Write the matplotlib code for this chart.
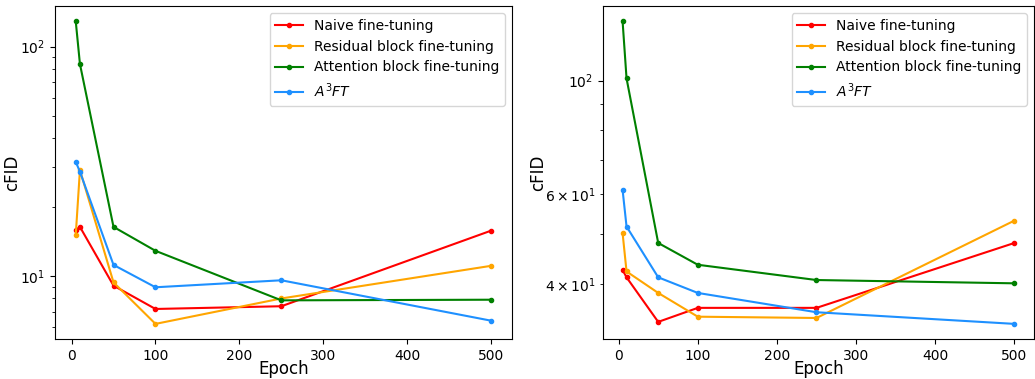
import matplotlib.pyplot as plt

epochs = [5, 10, 50, 100, 250, 500]

labels = ["Naive fine-tuning", "Residual block fine-tuning",
          "Attention block fine-tuning", r"$A^3FT$"]
colors = ["red", "orange", "green", "dodgerblue"]

# left panel
naive_l = [15.9, 16.4, 9.1, 7.2, 7.4, 15.8]
resid_l = [15.1, 29.0, 9.4, 6.2, 8.0, 11.1]
attn_l = [129, 84, 16.4, 12.9, 7.85, 7.9]
a3ft_l = [31.5, 28.5, 11.2, 8.95, 9.6, 6.4]

# right panel
naive_r = [42.6, 41.2, 33.7, 35.9, 35.9, 48.1]
resid_r = [50.3, 42.3, 38.4, 34.5, 34.3, 53.2]
attn_r = [130.7, 101, 48.1, 43.6, 40.7, 40.1]
a3ft_r = [61.1, 51.8, 41.2, 38.4, 35.2, 33.4]

fig = plt.figure(figsize=(10.35, 3.79), dpi=100)
ax1 = fig.add_axes([0.0531, 0.1055, 0.4416, 0.8785])
ax2 = fig.add_axes([0.5826, 0.1055, 0.4164, 0.8785])

for ax, series, ylx in [(ax1, [naive_l, resid_l, attn_l, a3ft_l], -0.074),
                        (ax2, [naive_r, resid_r, attn_r, a3ft_r], -0.129)]:
    for vals, lab, c in zip(series, labels, colors):
        ax.plot(epochs, vals, marker=".", markersize=6, color=c, label=lab)
    ax.set_yscale("log")
    ax.set_xlabel("Epoch", fontsize=12)
    ax.set_ylabel("cFID", fontsize=12)
    ax.xaxis.set_label_coords(0.5, -0.063)
    ax.yaxis.set_label_coords(ylx, 0.5)
    ax.legend(loc="upper right", fontsize=10)

plt.savefig("out.png", dpi=100)
